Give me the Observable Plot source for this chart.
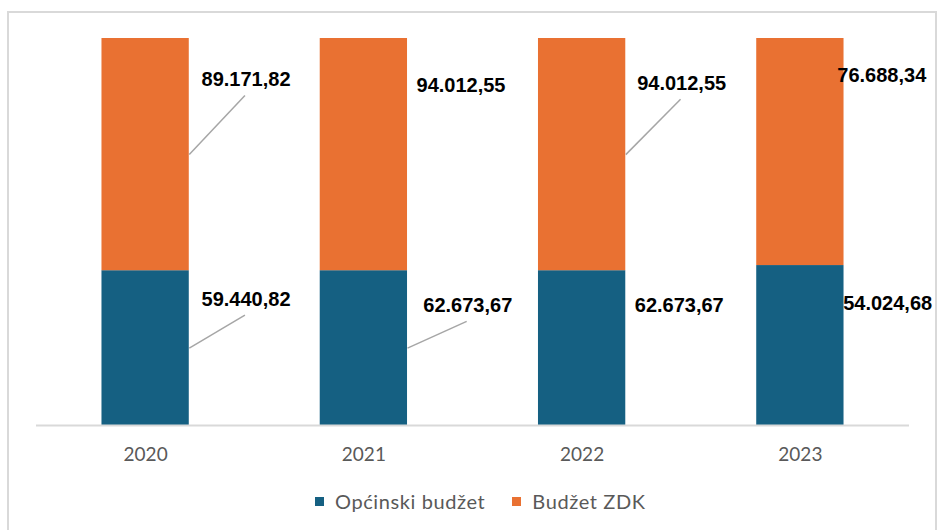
<!DOCTYPE html>
<html>
<head>
<meta charset="utf-8">
<script src="https://cdn.jsdelivr.net/npm/d3@7"></script>
<script src="https://cdn.jsdelivr.net/npm/@observablehq/plot@0.6"></script>
<style>
  body { margin: 0; background: #fff; }
  #wrap { position: relative; width: 937px; height: 530px; overflow: hidden; font-family: Lato, "Open Sans", sans-serif; }
  #frame { position: absolute; left: 7px; top: 11px; width: 930px; height: 600px; border: 2px solid #d9d9d9; box-sizing: border-box; }
  #chart { position: absolute; left: 0; top: 0; }
  #legend { position: absolute; left: 315px; top: 489px; display: flex; align-items: center; font-size: 20px; letter-spacing: 0.6px; color: #595959; white-space: nowrap; }
  .item { display: flex; align-items: center; margin-right: 27px; }
  .sw { width: 9px; height: 9px; margin-right: 11px; }
</style>
</head>
<body>
<div id="wrap">
  <div id="frame"></div>
  <div id="chart"></div>
  <div id="legend"></div>
</div>
<script>
// ---- data ----
const years = ["2020", "2021", "2022", "2023"];
const series = ["Općinski budžet", "Budžet ZDK"];
const opcinski = [59440.82, 62673.67, 62673.67, 54024.68];
const zdk = [89171.82, 94012.55, 94012.55, 76688.34];
const colors = ["#156082", "#E97132"];

// ---- label layout (offset in band steps, height as share of bar) ----
const labelShiftOp = [0.46, 0.476, 0.445, 0.40];
const labelShiftZdk = [0.46, 0.445, 0.456, 0.373];
const labelHeightOp = [0.326, 0.310, 0.310, 0.315];
const labelHeightZdk = [0.894, 0.879, 0.884, 0.904];
const leaderOp = [true, true, false, false];
const leaderZdk = [true, false, true, false];

const fmt = d3.formatLocale({decimal: ",", thousands: ".", grouping: [3], currency: ["", ""]}).format(",.2f");
const half = 0.2;      // half bar width in band steps
const leaderGap = 0.041;

const segs = [];
const labels = [];
const leaders = [];
years.forEach((yr, i) => {
  const total = opcinski[i] + zdk[i];
  const share = opcinski[i] / total;
  segs.push({i, s: series[0], y1: 0, y2: share});
  segs.push({i, s: series[1], y1: share, y2: 1});
  labels.push({x: i + labelShiftOp[i], y: labelHeightOp[i], t: fmt(opcinski[i])});
  labels.push({x: i + labelShiftZdk[i], y: labelHeightZdk[i], t: fmt(zdk[i])});
  if (leaderOp[i]) leaders.push({x1: i + half, y1: share / 2, x2: i + labelShiftOp[i] - 0.005, y2: labelHeightOp[i] - leaderGap});
  if (leaderZdk[i]) leaders.push({x1: i + half, y1: (share + 1) / 2, x2: i + labelShiftZdk[i] - 0.005, y2: labelHeightZdk[i] - leaderGap});
});

const chart = Plot.plot({
  width: 937,
  height: 470,
  marginTop: 38,
  marginBottom: 45,
  marginLeft: 36,
  marginRight: 28,
  style: {fontFamily: "Lato, 'Open Sans', sans-serif", fontSize: "19px", color: "#595959", background: "transparent", overflow: "visible"},
  x: {type: "linear", domain: [-0.5, years.length - 0.5], ticks: years.map((d, i) => i), tickFormat: i => years[i], tickSize: 0, tickPadding: 22, label: null},
  y: {domain: [0, 1], axis: null},
  color: {domain: series, range: colors},
  marks: [
    Plot.rect(segs, {x1: d => d.i - half, x2: d => d.i + half, y1: "y1", y2: "y2", fill: "s"}),
    Plot.ruleY([0], {stroke: "#d9d9d9", strokeWidth: 2}),
    Plot.link(leaders, {x1: "x1", y1: "y1", x2: "x2", y2: "y2", stroke: "#a6a6a6", strokeWidth: 1.5}),
    Plot.text(labels, {x: "x", y: "y", text: "t", fill: "#000", fontWeight: "bold", fontSize: 20, fontFamily: "'Liberation Sans', Arial, sans-serif"})
  ]
});
document.getElementById("chart").appendChild(chart);

const legend = document.getElementById("legend");
series.forEach((s, k) => {
  const item = document.createElement("div");
  item.className = "item";
  const sw = document.createElement("div");
  sw.className = "sw";
  sw.style.background = colors[k];
  const tx = document.createElement("span");
  tx.textContent = s;
  item.appendChild(sw);
  item.appendChild(tx);
  legend.appendChild(item);
});
</script>
</body>
</html>
